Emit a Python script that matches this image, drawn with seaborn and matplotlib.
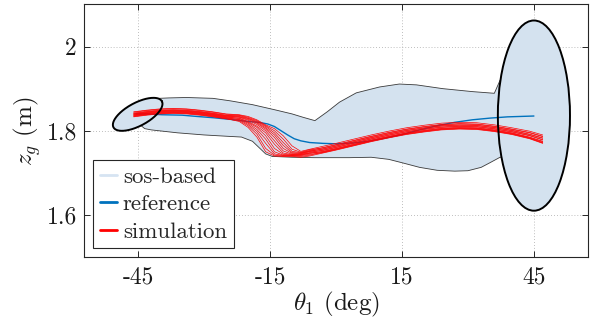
import numpy as np
import pandas as pd
import seaborn as sns
import matplotlib.pyplot as plt
from matplotlib.patches import Ellipse, Polygon
from matplotlib.lines import Line2D

# sos-based funnel boundary (theta_1 in deg, z_g in m)
tube_upper_x = [-45, -42.5, -38, -34, -28, -24, -19, -14, -10, -7.5, -4.8, -2, 0.8, 4.6, 9.9,
                14.4, 18.3, 24.3, 31, 36, 37.3, 45]
tube_upper_z = [1.862, 1.876, 1.878, 1.879, 1.877, 1.871, 1.862, 1.850, 1.840, 1.832, 1.824,
                1.845, 1.868, 1.890, 1.904, 1.911, 1.909, 1.900, 1.893, 1.889, 1.920, 1.920]
tube_lower_x = [-45, -43.5, -42, -36, -30, -25, -21.5, -19, -17.5, -16, -14.5, -10, -5, 3, 8,
                12, 15, 19, 23, 27, 30, 33, 35, 37.3, 45]
tube_lower_z = [1.818, 1.805, 1.802, 1.795, 1.790, 1.787, 1.785, 1.775, 1.760, 1.745, 1.739,
                1.737, 1.736, 1.736, 1.737, 1.732, 1.724, 1.713, 1.706, 1.704, 1.705, 1.713,
                1.724, 1.737, 1.737]

# initial set (tilted ellipse) and goal set
init_center = (-45.1, 1.839)
init_major = (5.5, 0.031)
init_minor = (1.25, -0.024)
goal_center = (45.0, 1.836)
goal_width = 16.4
goal_height = 0.452

# reference trajectory
ref_theta = [-45.5, -43, -39.5, -35, -31.7, -28, -24, -20, -17.5, -15.5, -14, -12.5, -11,
             -9.5, -8, -6, -3, 0, 4, 7.3, 11, 15, 19, 23, 27, 31, 35, 39, 45]
ref_z = [1.840, 1.840, 1.838, 1.837, 1.834, 1.831, 1.827, 1.822, 1.820, 1.816, 1.810, 1.800,
         1.790, 1.781, 1.776, 1.772, 1.770, 1.769, 1.771, 1.775, 1.782, 1.791, 1.802, 1.812,
         1.820, 1.826, 1.830, 1.833, 1.835]

# simulated closed-loop runs
sim_theta = [-46, -43, -40, -37, -34, -31, -28, -25, -22, -20, -18, -16, -14, -12, -10, -8,
             -6, -3, 0, 4, 8, 12, 16, 20, 24, 28, 32, 36, 40, 44, 47]
sim_z_0 = [1.834, 1.838, 1.841, 1.842, 1.841, 1.838, 1.834, 1.829, 1.822, 1.808, 1.785, 1.750,
           1.740, 1.739, 1.739, 1.737, 1.740, 1.747, 1.754, 1.764, 1.774, 1.783, 1.791, 1.797,
           1.802, 1.804, 1.803, 1.798, 1.791, 1.781, 1.770]
sim_z_1 = [1.833, 1.837, 1.840, 1.841, 1.840, 1.837, 1.833, 1.828, 1.824, 1.812, 1.792, 1.758,
           1.742, 1.740, 1.740, 1.739, 1.742, 1.749, 1.756, 1.766, 1.776, 1.785, 1.793, 1.799,
           1.804, 1.806, 1.805, 1.800, 1.793, 1.783, 1.772]
sim_z_2 = [1.836, 1.840, 1.843, 1.844, 1.843, 1.840, 1.836, 1.831, 1.826, 1.815, 1.798, 1.770,
           1.745, 1.741, 1.741, 1.741, 1.744, 1.748, 1.755, 1.765, 1.775, 1.784, 1.792, 1.798,
           1.803, 1.805, 1.804, 1.799, 1.792, 1.782, 1.771]
sim_z_3 = [1.835, 1.839, 1.842, 1.843, 1.842, 1.839, 1.835, 1.830, 1.827, 1.818, 1.803, 1.780,
           1.750, 1.742, 1.742, 1.742, 1.746, 1.751, 1.758, 1.768, 1.778, 1.787, 1.795, 1.801,
           1.806, 1.808, 1.807, 1.802, 1.795, 1.785, 1.775]
sim_z_4 = [1.838, 1.842, 1.845, 1.846, 1.845, 1.842, 1.838, 1.833, 1.829, 1.820, 1.808, 1.788,
           1.758, 1.744, 1.742, 1.743, 1.747, 1.750, 1.757, 1.767, 1.777, 1.786, 1.794, 1.800,
           1.805, 1.807, 1.806, 1.801, 1.794, 1.784, 1.774]
sim_z_5 = [1.837, 1.841, 1.844, 1.845, 1.844, 1.841, 1.837, 1.832, 1.830, 1.822, 1.811, 1.795,
           1.768, 1.747, 1.743, 1.744, 1.748, 1.754, 1.761, 1.771, 1.781, 1.790, 1.798, 1.804,
           1.809, 1.811, 1.810, 1.805, 1.798, 1.789, 1.779]
sim_z_6 = [1.840, 1.844, 1.847, 1.848, 1.847, 1.844, 1.840, 1.835, 1.832, 1.825, 1.815, 1.800,
           1.776, 1.752, 1.744, 1.745, 1.750, 1.753, 1.760, 1.770, 1.780, 1.789, 1.797, 1.803,
           1.808, 1.810, 1.809, 1.804, 1.797, 1.788, 1.778]
sim_z_7 = [1.839, 1.843, 1.846, 1.847, 1.846, 1.843, 1.839, 1.834, 1.833, 1.827, 1.818, 1.804,
           1.784, 1.758, 1.746, 1.746, 1.751, 1.757, 1.764, 1.774, 1.784, 1.793, 1.801, 1.807,
           1.812, 1.814, 1.813, 1.808, 1.801, 1.792, 1.783]
sim_z_8 = [1.842, 1.846, 1.849, 1.850, 1.849, 1.846, 1.842, 1.837, 1.834, 1.829, 1.820, 1.807,
           1.790, 1.765, 1.748, 1.747, 1.752, 1.756, 1.763, 1.773, 1.783, 1.792, 1.800, 1.806,
           1.811, 1.813, 1.812, 1.807, 1.800, 1.791, 1.782]
sim_z_9 = [1.841, 1.845, 1.848, 1.849, 1.848, 1.845, 1.841, 1.836, 1.836, 1.830, 1.822, 1.810,
           1.795, 1.772, 1.751, 1.748, 1.753, 1.760, 1.767, 1.777, 1.787, 1.796, 1.804, 1.810,
           1.815, 1.817, 1.816, 1.811, 1.804, 1.796, 1.787]
sim_z_10 = [1.844, 1.848, 1.851, 1.852, 1.851, 1.848, 1.844, 1.839, 1.837, 1.832, 1.824, 1.812,
            1.800, 1.780, 1.756, 1.749, 1.755, 1.759, 1.766, 1.776, 1.786, 1.795, 1.803, 1.809,
            1.814, 1.816, 1.815, 1.810, 1.803, 1.795, 1.786]
sim_z_11 = [1.845, 1.849, 1.852, 1.853, 1.852, 1.849, 1.845, 1.840, 1.838, 1.834, 1.826, 1.814,
            1.805, 1.788, 1.764, 1.751, 1.756, 1.763, 1.770, 1.780, 1.790, 1.799, 1.807, 1.813,
            1.818, 1.820, 1.819, 1.814, 1.807, 1.799, 1.790]
sim_runs = [sim_z_0, sim_z_1, sim_z_2, sim_z_3, sim_z_4, sim_z_5,
            sim_z_6, sim_z_7, sim_z_8, sim_z_9, sim_z_10, sim_z_11]

x_ticks = [-45, -15, 15, 45]
x_ticklabels = ['-45', '-15', '15', '45']
y_ticks = [1.6, 1.8, 2.0]
y_ticklabels = ['1.6', '1.8', '2']

sns.set_style('ticks')
plt.rcParams['font.family'] = ['cmr10', 'DejaVu Serif']
plt.rcParams['mathtext.fontset'] = 'cm'
plt.rcParams['axes.formatter.use_mathtext'] = True

sos_fill = '#d4e2ef'
ref_blue = '#0072BD'
axis_gray = '#262626'

fig = plt.figure(figsize=(5.98, 3.26), dpi=100)
ax = fig.add_axes([0.1405, 0.2117, 0.8428, 0.7745])
ax.set_axisbelow(True)

# funnel
tube_x = list(tube_upper_x) + list(tube_lower_x[::-1])
tube_z = list(tube_upper_z) + list(tube_lower_z[::-1])
ax.add_patch(Polygon(np.column_stack([tube_x, tube_z]), closed=True, facecolor=sos_fill,
                     edgecolor='#3a3a3a', lw=0.6, zorder=1))

# initial set
t = np.linspace(0, 2 * np.pi, 300)
ix = init_center[0] + init_major[0] * np.cos(t) + init_minor[0] * np.sin(t)
iz = init_center[1] + init_major[1] * np.cos(t) + init_minor[1] * np.sin(t)
ax.add_patch(Polygon(np.column_stack([ix, iz]), closed=True, facecolor=sos_fill,
                     edgecolor='none', zorder=2))
ax.plot(np.append(ix, ix[0]), np.append(iz, iz[0]), color='black', lw=1.4, zorder=6)

# goal set
ax.add_patch(Ellipse(goal_center, goal_width, goal_height, facecolor=sos_fill,
                     edgecolor='none', zorder=2))
ax.add_patch(Ellipse(goal_center, goal_width, goal_height, facecolor='none',
                     edgecolor='black', lw=1.4, zorder=6))

# reference
sns.lineplot(x=ref_theta, y=ref_z, color=ref_blue, lw=1.0, sort=False, ax=ax, zorder=4)

# simulations
rows = []
for i, run in enumerate(sim_runs):
    for th, z in zip(sim_theta, run):
        rows.append((i, th, z))
df = pd.DataFrame(rows, columns=['run', 'theta', 'z'])
sns.lineplot(data=df, x='theta', y='z', units='run', estimator=None, color='red',
             lw=0.5, sort=False, legend=False, ax=ax, zorder=5)

ax.set_xlim(-57.3, 57.3)
ax.set_ylim(1.5, 2.1)
ax.set_xticks(x_ticks)
ax.set_xticklabels(x_ticklabels)
ax.set_yticks(y_ticks)
ax.set_yticklabels(y_ticklabels)
ax.grid(True, color='#a8a8a8', lw=0.6, linestyle=(0, (1, 2.5)))
ax.tick_params(direction='in', length=4, width=0.7, colors=axis_gray, labelsize=17,
               top=True, right=True, labelcolor='#1a1a1a')
ax.tick_params(axis='x', pad=7)
ax.tick_params(axis='y', pad=5)
for s in ax.spines.values():
    s.set_color(axis_gray)
    s.set_linewidth(0.8)

ax.set_xlabel(r'$\theta_1$ (deg)', fontsize=18, labelpad=1, color='#1a1a1a')
ax.set_ylabel(r'$z_g$ (m)', fontsize=18, labelpad=3, color='#1a1a1a')

handles = [Line2D([], [], color='#d6e4f2', lw=2),
           Line2D([], [], color=ref_blue, lw=2),
           Line2D([], [], color='red', lw=2)]
leg = ax.legend(handles, ['sos-based', 'reference', 'simulation'], loc='lower left',
                bbox_to_anchor=(0.018, 0.034), borderaxespad=0, fontsize=16.5,
                handlelength=0.75, handletextpad=0.25, labelspacing=0.32,
                borderpad=0.3, fancybox=False, framealpha=1)
leg.get_frame().set_edgecolor(axis_gray)
leg.get_frame().set_linewidth(0.8)
leg.set_zorder(10)

fig.savefig('out.png', dpi=100)
